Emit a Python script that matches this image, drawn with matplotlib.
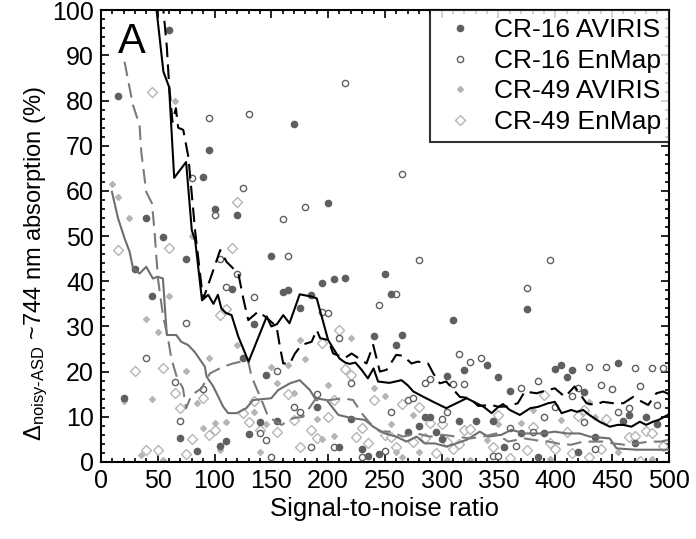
import numpy as np
import matplotlib
matplotlib.use("Agg")
import matplotlib.pyplot as plt

plt.rcParams['font.family'] = ['Liberation Sans', 'DejaVu Sans']
plt.rcParams['mathtext.fontset'] = 'custom'
plt.rcParams['mathtext.rm'] = 'Liberation Sans'
plt.rcParams['mathtext.it'] = 'Liberation Sans:italic'

# scatter data, (SNR, % difference)
cr16_aviris = [(15, 81), (20, 14.2), (30, 42.7), (40, 54), (45, 36.7), (55, 49.8), (60, 95.6),
               (70, 5.3), (75, 45), (85, 2.5), (90, 63), (95, 69), (100, 56), (105, 3.6),
               (110, 4.7), (115, 38.2), (120, 54.6), (125, 23), (130, 6.2), (135, 30.5),
               (140, 8.9), (145, 19.2), (150, 45.6), (155, 9.1), (160, 37.7), (165, 38),
               (170, 74.8), (175, 34.1), (185, 36.9), (190, 12.2), (195, 39.7), (200, 57.4),
               (205, 40.5), (210, 3.2), (215, 40.8), (220, 9.4), (230, 2.8), (235, 1.3),
               (240, 27.9), (245, 1.8), (250, 41.7), (255, 37.2), (260, 25.9), (265, 28),
               (270, 6.7), (280, 8), (285, 9.9), (290, 10), (295, 6.7), (300, 5), (305, 19.1),
               (310, 31.5), (315, 9.1), (320, 20.3), (330, 9.1), (340, 21.4), (345, 9.1),
               (350, 18.9), (355, 3.4), (360, 15.6), (370, 6.3), (375, 33.8), (385, 1.2),
               (390, 6.5), (400, 20.5), (405, 21.5), (410, 18.9), (415, 20.3), (420, 2.3),
               (425, 15.4), (435, 5.6), (455, 22), (460, 9.1), (465, 10.4), (470, 4.1),
               (480, 9.9), (490, 8.5)]

cr16_enmap = [(40, 23), (65, 17.7), (70, 9.1), (75, 30.7), (80, 62.8), (90, 16.2), (95, 76.2),
              (100, 54.6), (105, 45), (110, 38.7), (120, 41.6), (125, 60.6), (130, 77),
              (135, 36.5), (140, 6.4), (145, 4.9), (150, 1), (155, 20.1), (160, 53.8),
              (165, 45.6), (170, 12.2), (175, 11.1), (180, 56.5), (185, 3.2), (190, 15),
              (195, 33.3), (200, 33), (205, 3.2), (210, 27.4), (215, 84), (220, 17.4), (230, 1),
              (245, 34.7), (250, 2.4), (255, 11), (260, 37.2), (265, 63.7), (270, 13.6),
              (275, 14.1), (280, 44.7), (285, 17.5), (290, 18.4), (300, 9.6), (305, 11),
              (310, 17.2), (315, 24), (320, 17.3), (325, 22.2), (335, 23), (345, 1.3),
              (350, 1.4), (360, 7.4), (365, 3.6), (370, 16.3), (375, 38.6), (380, 6.7),
              (385, 17.9), (390, 10), (395, 44.7), (400, 12.2), (415, 14.5), (420, 16.3),
              (425, 8.8), (430, 21), (435, 2.8), (440, 17), (445, 21), (450, 16.2), (455, 11),
              (465, 12), (470, 20.7), (475, 16.8), (485, 20.7), (490, 12.5), (495, 20.7)]

cr49_aviris = [(10, 61.5), (15, 58.6), (20, 13.5), (25, 54), (35, 1.5), (40, 31.6), (45, 13.9),
               (50, 28.8), (55, 0.5), (60, 36.7), (65, 79.8), (75, 20.2), (80, 50), (85, 13),
               (90, 7.5), (95, 22.9), (100, 8.6), (105, 2.7), (110, 8.8), (120, 25.9), (135, 11),
               (140, 2.2), (145, 8.4), (150, 21), (155, 17.5), (165, 21.5), (170, 15.2),
               (175, 27), (180, 22.8), (190, 9.5), (195, 5.1), (200, 17), (205, 5.8),
               (220, 27.5), (240, 16.4), (250, 14.6), (255, 8.3), (260, 2.3), (265, 1),
               (275, 10.4), (280, 2.3), (305, 0.5), (325, 0.5), (340, 4.9), (350, 8.5),
               (370, 8.7), (380, 11.5), (395, 0.6), (405, 9.3), (430, 13.3), (435, 10),
               (455, 2.1), (485, 0.6)]

cr49_enmap = [(15, 47), (30, 20.1), (40, 2.7), (45, 82), (50, 2.7), (55, 20.9), (60, 47.4),
              (65, 15.3), (70, 12), (75, 1.8), (80, 5.1), (90, 14.2), (95, 6), (100, 7),
              (105, 32.5), (110, 33.8), (115, 47.3), (120, 57.5), (125, 10.8), (130, 8.8),
              (135, 13.4), (140, 7.1), (155, 6.6), (165, 15), (170, 9.3), (175, 3.4), (185, 7.1),
              (190, 5.4), (195, 26.3), (200, 9.9), (205, 13.7), (210, 29.2), (215, 20.5),
              (220, 19.2), (225, 5.6), (230, 7.4), (235, 4.1), (240, 13.6), (250, 6), (255, 5.5),
              (260, 3.4), (265, 12.8), (275, 4.5), (280, 12.1), (285, 5.2), (290, 8.7), (295, 2),
              (300, 8.4), (305, 4.5), (310, 2.8), (315, 4), (320, 7.1), (325, 7.2), (345, 3.2),
              (350, 10.4), (360, 0.8), (375, 2.7), (380, 7.8), (390, 14.8), (395, 4.1),
              (400, 2.8), (410, 6.7), (415, 2), (420, 10.2), (425, 11.5), (430, 1.2), (440, 2.8),
              (445, 9.5), (465, 5.6), (470, 5.8), (475, 0.3), (480, 6.9), (485, 6.4), (495, 3.5)]

# running-mean lines
cr16_aviris_line_x = [47, 49, 55, 60, 64.5, 75, 80, 83, 89, 94.5, 99, 103, 106, 110, 115, 121, 130,
                      146, 150, 155, 160.5, 166, 175, 185.5, 190, 196, 200, 210, 215, 219, 224,
                      229.5, 235, 240, 244, 254, 264.6, 270, 275, 284, 292.6, 304, 313, 322, 330.6,
                      337, 344, 350, 354, 360, 368.8, 378, 385, 393.8, 399.6, 405.6, 414, 419,
                      424.5, 430, 439, 448, 455, 460, 467, 474.5, 480, 486, 491, 499]
cr16_aviris_line_y = [115, 100, 86.4, 83, 62.9, 66.4, 51.3, 49, 35.8, 37, 35, 37, 34, 33, 32.5, 27.7,
                      22.2, 32.2, 30, 30.5, 32.5, 30.7, 37.1, 36.6, 36.2, 30.7, 27, 22.9, 22, 21.7,
                      22, 20.4, 18.5, 20.7, 17.8, 17.5, 18.1, 17, 15.6, 14.4, 13.3, 11.9, 13, 14.1,
                      13, 12.2, 10.8, 12.2, 12.8, 11.5, 10.4, 11.9, 12.2, 13, 13.3, 10.8, 11.5, 11.1,
                      11.5, 10.4, 8.9, 7.8, 8.2, 8.2, 7.8, 8.9, 8.2, 8.9, 9.3, 10.4]

cr16_enmap_line_x = [52, 55, 58, 60, 63, 66, 68, 72.5, 77, 83, 88.6, 90, 99, 105, 110.6, 121, 125.3,
                     129.7, 138.5, 144.4, 154.6, 157.6, 160.5, 166.4, 170.8, 176.7, 185.5, 190, 193,
                     200, 204.5, 214.8, 220.7, 233.8, 239.7, 245.6, 251.5, 260, 266, 273.4, 279,
                     288, 292.6, 298.4, 304, 316, 325, 332, 344, 350, 358.5, 367, 373.2, 383.5, 389,
                     399.6, 408.5, 417, 427.5, 434.8, 442, 451, 460, 468.6, 475, 481.8, 489, 495, 500]
cr16_enmap_line_y = [115, 100, 92, 83.6, 75.3, 78.3, 74, 73.5, 67.5, 51, 38.8, 36, 42.5, 46.9, 44.3,
                     41.7, 36.2, 31.4, 33.3, 32.2, 30, 25.5, 21.8, 21.8, 24, 25.9, 26.6, 29.2, 27.4,
                     27, 24, 23, 24, 21.8, 25.9, 20, 20.4, 23.7, 23.5, 21.8, 22.2, 21.8, 19.6, 17.4,
                     17.8, 14.4, 14.1, 12.4, 12.6, 12.2, 12.3, 13, 15.6, 15.2, 15.6, 16.3, 14.4,
                     16.7, 13, 12.6, 13.3, 13, 13, 14.4, 13.5, 12.6, 15.2, 15.6, 15]

cr49_aviris_line_x = [9.7, 15, 20.8, 25.3, 28.2, 34, 39.9, 45.8, 50, 54.6, 58, 66.3, 70.7, 76.6, 82.4,
                      91.5, 93, 98.9, 107.7, 112, 119.5, 128, 134, 150, 156, 166.4, 175, 184, 188.4,
                      198.7, 209, 220.7, 232.4, 239.7, 250, 260, 269, 278, 285, 294, 304, 313, 322,
                      333.6, 341, 352.6, 361.4, 373, 388, 399.6, 410, 421.6, 430.5, 448, 454, 471.5,
                      492, 500]
cr49_aviris_line_y = [59.8, 54, 49.5, 46.5, 42.9, 41.7, 43.2, 40.6, 41, 40.6, 28.1, 28.1, 26.6, 25.9,
                      24.4, 21.1, 18.9, 16.7, 12.2, 10.8, 10.8, 11.9, 13.7, 14.1, 15.9, 17.4, 18.1,
                      15.9, 14.1, 13.7, 10.4, 9.7, 9.3, 7.8, 6.3, 5.6, 4.5, 5.6, 4.1, 4.1, 3.4, 4.1,
                      4.9, 6.7, 5.6, 6, 7.1, 6.3, 6.3, 6.7, 6.3, 6.3, 5.6, 5.2, 3, 2.7, 2.7, 2.7]

cr49_enmap_line_x = [20.8, 28.2, 34, 35.5, 39.9, 45, 47.2, 50.2, 54.6, 59, 62, 66.3, 72.2, 75, 79.8,
                     88.6, 96, 107.6, 116.4, 129.4, 132.6, 141.4, 147.3, 159, 169.3, 178, 188.4,
                     201.6, 213, 222, 229.5, 236.8, 245.6, 254.4, 266, 278, 289.6, 301, 313, 325,
                     336.5, 348, 358.5, 373, 383, 393.8, 404, 414, 424.5, 442, 451, 461, 471.5, 483,
                     493, 500]
cr49_enmap_line_y = [88.6, 79, 74.6, 68.7, 59.8, 57.2, 51, 40.6, 32.5, 27.4, 22.9, 19.2, 16.3, 11.9,
                     14.8, 16.3, 19.6, 21.1, 21.8, 22.6, 18.9, 13.7, 10, 8.2, 9.7, 10, 13.7, 13.7,
                     14.1, 13.7, 10.8, 8.6, 6.7, 6.7, 5.6, 6.3, 5.6, 6, 5.6, 5.2, 5.6, 6.3, 4.5, 5.2,
                     4.8, 4.5, 4, 3.8, 4.5, 4.5, 4.1, 3.8, 4.1, 4.5, 4.5, 4.9]

dark = '#5f5f5f'
light = '#b5b5b5'
fs = 18

fig = plt.figure(figsize=(6.96, 5.39), dpi=100)
ax = fig.add_axes([0.145, 0.143, 0.816, 0.838])

x, y = zip(*cr49_enmap)
ax.plot(x, y, 'D', ms=5.5, mfc='white', mec=light, mew=1.0, ls='none', label='CR-49 EnMap', zorder=2)
x, y = zip(*cr49_aviris)
ax.plot(x, y, 'D', ms=3.0, mfc=light, mec=light, ls='none', label='CR-49 AVIRIS', zorder=2)
x, y = zip(*cr16_enmap)
ax.plot(x, y, 'o', ms=4.5, mfc='white', mec=dark, mew=1.0, ls='none', label='CR-16 EnMap', zorder=3)
x, y = zip(*cr16_aviris)
ax.plot(x, y, 'o', ms=4.5, mfc=dark, mec=dark, ls='none', label='CR-16 AVIRIS', zorder=3)

ax.plot(cr49_aviris_line_x, cr49_aviris_line_y, color='#6e6e6e', lw=1.5, zorder=4)
ax.plot(cr49_enmap_line_x, cr49_enmap_line_y, color='#7a7a7a', lw=1.5, dashes=(7, 3.5), zorder=4)
ax.plot(cr16_aviris_line_x, cr16_aviris_line_y, color='black', lw=1.5, zorder=5)
ax.plot(cr16_enmap_line_x, cr16_enmap_line_y, color='black', lw=1.5, dashes=(7, 3.5), zorder=5)

ax.set_xlim(0, 500)
ax.set_ylim(0, 100)
ax.set_xticks(np.arange(0, 501, 50))
ax.set_xticks(np.arange(0, 501, 10), minor=True)
ax.set_yticks(np.arange(0, 101, 10))
ax.set_yticks(np.arange(0, 101, 2), minor=True)
ax.tick_params(which='both', direction='in', top=True, right=True, width=1.2, labelsize=fs)
ax.tick_params(which='major', length=6, pad=5)
ax.tick_params(which='minor', length=3)
for s in ax.spines.values():
    s.set_linewidth(1.5)

ax.set_xlabel('Signal-to-noise ratio', fontsize=18.5, labelpad=3)
ax.set_ylabel(r'$\Delta_{\text{noisy-ASD}}$ ~744 nm absorption (%)', fontsize=17)
ax.yaxis.set_label_coords(-0.09, 0.44)
ax.text(0.03, 0.975, 'A', transform=ax.transAxes, fontsize=30, va='top', ha='left')

h, l = ax.get_legend_handles_labels()
leg = ax.legend(h[::-1], l[::-1], loc='upper right', fontsize=19, frameon=True, fancybox=False,
                borderaxespad=0, handletextpad=0.5, labelspacing=0.25, borderpad=0.3,
                handlelength=1.6)
leg.get_frame().set_edgecolor('black')
leg.get_frame().set_linewidth(1.5)

fig.savefig('out.png', dpi=100)
